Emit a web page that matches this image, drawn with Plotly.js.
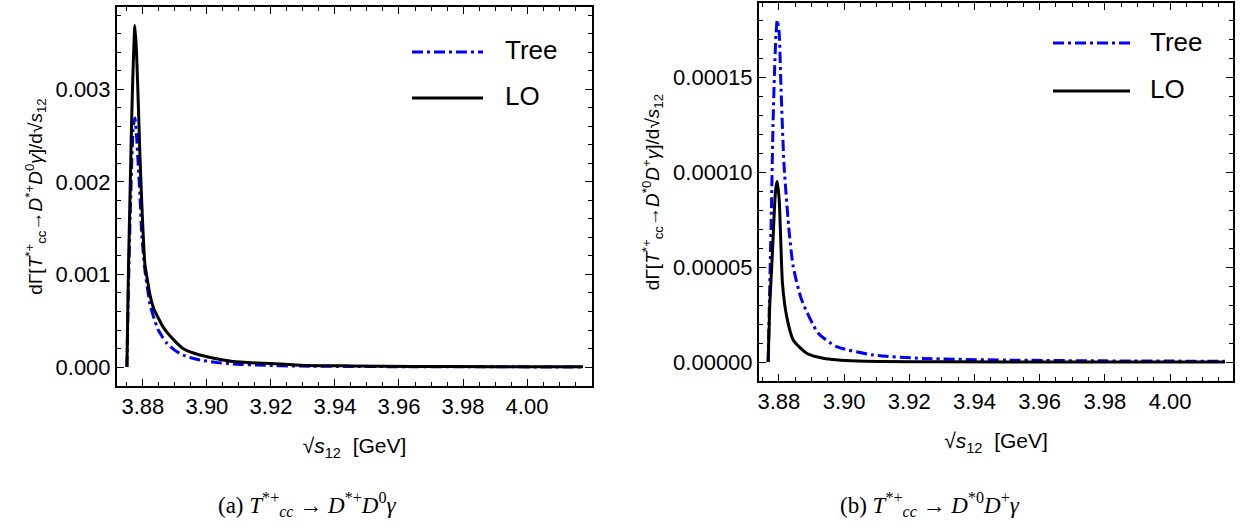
<!DOCTYPE html>
<html>
<head>
<meta charset="utf-8">
<script src="https://cdn.plot.ly/plotly-3.0.1.min.js"></script>
<style>html,body{margin:0;padding:0;background:#fff;}#chart{width:1244px;height:527px;}</style>
</head>
<body>
<div id="chart"></div>
<script>
// ---- Panel (a): T_cc^{*+} -> D^{*+} D^0 gamma ----
const xA = [3.8750, 3.8755, 3.8760, 3.8765, 3.8770, 3.8775, 3.8780, 3.8785, 3.8790, 3.8796,
            3.8806, 3.8815, 3.8822, 3.8835, 3.8848, 3.8860, 3.8874, 3.8900, 3.8925, 3.8950,
            3.8978, 3.9030, 3.9081, 3.9180, 3.9291, 3.9450, 3.9650, 3.9900, 4.0175];
const treeA = [0, 0.0009, 0.0016, 0.0022, 0.0026, 0.00269, 0.0025, 0.0022, 0.0019, 0.00145,
               0.00105, 0.00083, 0.00068, 0.00052, 0.00040, 0.00033, 0.00026, 0.00018, 0.00013, 0.00010,
               0.000076, 0.00005, 0.000033, 0.000018, 0.00001, 0.000006, 0.000003, 0.000002, 0.000001];
const loA = [0, 0.0011, 0.0019, 0.0027, 0.0033, 0.00369, 0.0034, 0.0029, 0.00235, 0.0018,
             0.00112, 0.00092, 0.00078, 0.00062, 0.00053, 0.00045, 0.00038, 0.00028, 0.00020, 0.00016,
             0.00013, 0.00009, 0.00006, 0.00004, 0.00002, 0.000012, 0.000007, 0.000004, 0.000002];

// ---- Panel (b): T_cc^{*+} -> D^{*0} D^+ gamma ----
const xBtree = [3.8767, 3.8772, 3.8777, 3.8782, 3.8787, 3.8791, 3.8795, 3.8801, 3.8806, 3.8816,
                3.8832, 3.8844, 3.8870, 3.8921, 3.8977, 3.9089, 3.9243, 3.9500, 3.9800, 4.0168];
const treeB = [0, 0.00004, 0.00008, 0.000125, 0.000155, 0.000172, 0.00018, 0.000173, 0.000147, 0.000103,
               0.0000677, 0.0000502, 0.0000326, 0.0000151, 0.0000081, 0.0000037, 0.0000019, 0.000001, 0.0000006, 0.0000004];
const xBlo = [3.8767, 3.8772, 3.8778, 3.8783, 3.8788, 3.8792, 3.8795, 3.8801, 3.8805, 3.8811,
              3.8824, 3.8844, 3.8885, 3.8936, 3.9040, 3.9300, 3.9700, 4.0168];
const loB = [0, 0.00003, 0.00005, 0.000068, 0.000086, 0.000093, 0.000095, 0.0000853, 0.0000677, 0.0000414,
             0.0000239, 0.0000116, 0.0000046, 0.000002, 0.0000005, 0.0000001, 0, 0];

const xTicks = [3.88, 3.90, 3.92, 3.94, 3.96, 3.98, 4.00];
const yTicksA = [0, 0.001, 0.002, 0.003];
const yTicksB = [0, 0.00005, 0.00010, 0.00015];
const seriesNames = ['Tree', 'LO'];

const W = 1244, H = 527;
const px = v => v / W;
const py = v => 1 - v / H;

const blue = '#0000ff';
const dashDot = '11px,4px,3px,4px';
const sans = 'Liberation Sans, Arial, sans-serif';
const serif = 'Liberation Serif, DejaVu Serif, serif';

function lineTrace(x, y, name, isTree, xa, ya) {
  return {x: x, y: y, name: name, type: 'scatter', mode: 'lines',
    line: isTree ? {color: blue, width: 3, dash: dashDot, shape: 'spline', smoothing: 0.6}
                 : {color: '#000', width: 3, shape: 'spline', smoothing: 0.6},
    xaxis: xa, yaxis: ya, showlegend: false};
}

const traces = [
  lineTrace(xA, treeA, seriesNames[0], true, 'x', 'y'),
  lineTrace(xA, loA, seriesNames[1], false, 'x', 'y'),
  lineTrace(xBtree, treeB, seriesNames[0], true, 'x2', 'y2'),
  lineTrace(xBlo, loB, seriesNames[1], false, 'x2', 'y2')
];

function xAxis(domain, range) {
  return {
    domain: domain, range: range, tickvals: xTicks, tickformat: '.2f',
    ticks: 'inside', ticklen: 7, tickwidth: 1, tickcolor: '#000',
    minor: {dtick: 0.005, tick0: 3.88, ticks: 'inside', ticklen: 4, tickwidth: 1, tickcolor: '#000'},
    showline: true, linewidth: 2, linecolor: '#000', mirror: 'ticks',
    showgrid: false, zeroline: false,
    tickfont: {family: sans, size: 22, color: '#000'},
    title: {text: '√<i>s</i><sub>12</sub>  [GeV]', font: {family: sans, size: 21, color: '#000'}, standoff: 20}
  };
}
function yAxis(domain, range, tickvals, fmt, minorD, titleText) {
  return {
    domain: domain, range: range, tickvals: tickvals, tickformat: fmt,
    ticks: 'inside', ticklen: 7, tickwidth: 1, tickcolor: '#000',
    minor: {dtick: minorD, tick0: 0, ticks: 'inside', ticklen: 4, tickwidth: 1, tickcolor: '#000'},
    showline: true, linewidth: 2, linecolor: '#000', mirror: 'ticks',
    showgrid: false, zeroline: false,
    tickfont: {family: sans, size: 22, color: '#000'},
    title: {text: titleText, font: {family: sans, size: 19, color: '#000'}, standoff: 8}
  };
}

const yTitleA = 'dΓ[<i>T</i><sup>*+</sup><sub>cc</sub>→<i>D</i><sup>*+</sup><i>D</i><sup>0</sup><i>γ</i>]/d√<i>s</i><sub>12</sub>';
const yTitleB = 'dΓ[<i>T</i><sup>*+</sup><sub>cc</sub>→<i>D</i><sup>*0</sup><i>D</i><sup>+</sup><i>γ</i>]/d√<i>s</i><sub>12</sub>';

const layout = {
  width: W, height: H,
  margin: {l: 0, r: 0, t: 0, b: 0},
  paper_bgcolor: '#fff', plot_bgcolor: '#fff',
  showlegend: false,
  xaxis: xAxis([px(117), px(592)], [3.8719, 4.0203]),
  yaxis: yAxis([py(386), py(7)], [-0.000205, 0.00389], yTicksA, '.3f', 0.0002, yTitleA),
  xaxis2: Object.assign(xAxis([px(759), px(1233)], [3.8739, 4.0193]), {anchor: 'y2'}),
  yaxis2: Object.assign(yAxis([py(381), py(3)], [-0.0000100, 0.000189], yTicksB, '.5f', 0.00001, yTitleB), {anchor: 'x2'}),
  shapes: [
    {type: 'line', xref: 'paper', yref: 'paper', x0: px(412), x1: px(483), y0: py(52), y1: py(52),
     line: {color: blue, width: 3, dash: dashDot}},
    {type: 'line', xref: 'paper', yref: 'paper', x0: px(412), x1: px(483), y0: py(98), y1: py(98),
     line: {color: '#000', width: 3}},
    {type: 'line', xref: 'paper', yref: 'paper', x0: px(1053), x1: px(1130), y0: py(43), y1: py(43),
     line: {color: blue, width: 3, dash: dashDot}},
    {type: 'line', xref: 'paper', yref: 'paper', x0: px(1053), x1: px(1130), y0: py(91), y1: py(91),
     line: {color: '#000', width: 3}}
  ],
  annotations: [
    {text: seriesNames[0], xref: 'paper', yref: 'paper', x: px(503), y: py(50), xanchor: 'left', yanchor: 'middle',
     showarrow: false, font: {family: sans, size: 26, color: '#000'}},
    {text: seriesNames[1], xref: 'paper', yref: 'paper', x: px(503), y: py(96), xanchor: 'left', yanchor: 'middle',
     showarrow: false, font: {family: sans, size: 26, color: '#000'}},
    {text: seriesNames[0], xref: 'paper', yref: 'paper', x: px(1148), y: py(42), xanchor: 'left', yanchor: 'middle',
     showarrow: false, font: {family: sans, size: 26, color: '#000'}},
    {text: seriesNames[1], xref: 'paper', yref: 'paper', x: px(1148), y: py(89), xanchor: 'left', yanchor: 'middle',
     showarrow: false, font: {family: sans, size: 26, color: '#000'}},
    {text: '(a) <i>T</i><sup>*+</sup><sub><i>cc</i></sub> → <i>D</i><sup>*+</sup><i>D</i><sup>0</sup><i>γ</i>',
     xref: 'paper', yref: 'paper', x: px(307), y: py(504), xanchor: 'center', yanchor: 'middle',
     showarrow: false, font: {family: serif, size: 23, color: '#000'}},
    {text: '(b) <i>T</i><sup>*+</sup><sub><i>cc</i></sub> → <i>D</i><sup>*0</sup><i>D</i><sup>+</sup><i>γ</i>',
     xref: 'paper', yref: 'paper', x: px(930), y: py(504), xanchor: 'center', yanchor: 'middle',
     showarrow: false, font: {family: serif, size: 23, color: '#000'}}
  ]
};

Plotly.newPlot('chart', traces, layout, {displayModeBar: false, staticPlot: true});
</script>
</body>
</html>
